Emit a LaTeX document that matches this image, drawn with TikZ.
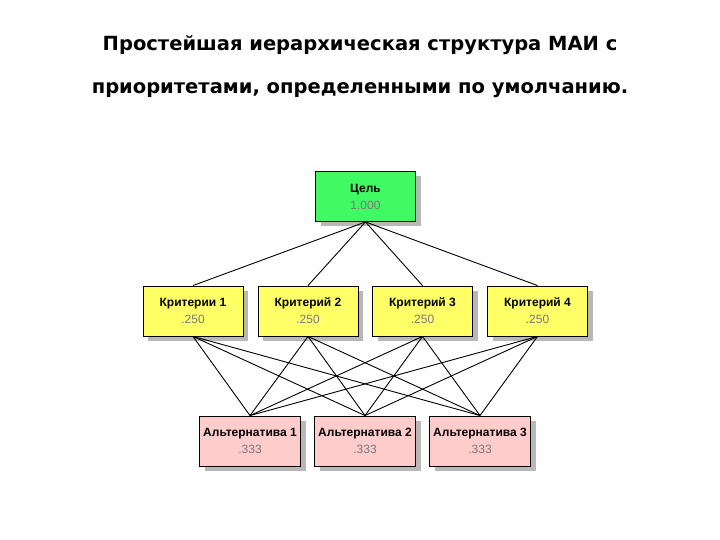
\documentclass[tikz,border=0pt]{standalone}
\usepackage{fontspec}
\setmainfont{Liberation Sans}
\newfontfamily\titlefont{DejaVu Sans}
\usetikzlibrary{shadows}
\definecolor{goalgreen}{RGB}{64,250,100}
\definecolor{crityellow}{RGB}{255,255,102}
\definecolor{altpink}{RGB}{255,204,204}
\definecolor{valgray}{RGB}{120,120,120}
\tikzset{
  box/.style={draw=black, line width=0.9pt, minimum width=100pt, minimum height=50pt,
    align=center, inner sep=0pt, font=\fontsize{12}{17}\selectfont,
    drop shadow={shadow xshift=5pt, shadow yshift=-5pt, fill=black!28, opacity=1}},
  goalbox/.style={box, fill=goalgreen},
  critbox/.style={box, fill=crityellow},
  altbox/.style={box, fill=altpink, minimum width=101pt},
  link/.style={draw=black, line width=0.9pt},
  ttl/.style={font=\titlefont\bfseries\fontsize{19.5}{22}\selectfont}
}
\newcommand{\boxtext}[2]{\textbf{#1}\\{\color{valgray}#2}}
\begin{document}
\begin{tikzpicture}[x=1pt,y=-1pt]
\useasboundingbox[fill=white] (0,0) rectangle (720,540);
\node[ttl] (t1) at (360,45) {Простейшая иерархическая структура МАИ с};
\node[ttl] (t2) at (360,90) {приоритетами, определенными по умолчанию.};

\node[goalbox] (g) at (365.5,196.5) {\boxtext{Цель}{1.000}};
\node[critbox] (k1) at (193,311) {\boxtext{Критерии 1}{.250}};
\node[critbox] (k2) at (308,311) {\boxtext{Критерий 2}{.250}};
\node[critbox] (k3) at (422.5,311) {\boxtext{Критерий 3}{.250}};
\node[critbox] (k4) at (537.5,311) {\boxtext{Критерий 4}{.250}};
\node[altbox] (a1) at (250,441) {\boxtext{Альтернатива 1}{.333}};
\node[altbox] (a2) at (365,441) {\boxtext{Альтернатива 2}{.333}};
\node[altbox] (a3) at (480,441) {\boxtext{Альтернатива 3}{.333}};

\foreach \k in {k1,k2,k3,k4} {
  \draw[link] (g.south) -- (\k.north);
  \foreach \a in {a1,a2,a3} {
    \draw[link] (\k.south) -- (\a.north);
  }
}
\end{tikzpicture}
\end{document}
